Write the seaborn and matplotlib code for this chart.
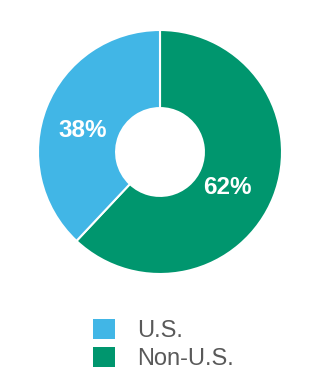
import matplotlib
matplotlib.use("Agg")
import matplotlib.pyplot as plt
from matplotlib.patches import Patch
from matplotlib.transforms import offset_copy
import seaborn as sns

categories = ["U.S.", "Non-U.S."]
values = [38, 62]
colors = ["#41B6E6", "#00966E"]

sns.set_style("white")
plt.rcParams["font.family"] = ["Liberation Sans", "DejaVu Sans"]

W, H = 320, 380
fig = plt.figure(figsize=(W / 100, H / 100), dpi=100)
cx, cy, r = 160, 152, 122
ax = fig.add_axes([(cx - r) / W, (H - cy - r) / H, 2 * r / W, 2 * r / H])

# draw Non-U.S. from top clockwise, then U.S.
order = [1, 0]
wedges, texts, autotexts = ax.pie(
    [values[i] for i in order],
    colors=[colors[i] for i in order],
    startangle=90,
    counterclock=False,
    radius=1,
    autopct=lambda p: f"{p:.0f}%",
    pctdistance=0.64,
    wedgeprops=dict(width=0.64, edgecolor="white", linewidth=1.5),
    textprops=dict(color="white", fontsize=17.5, fontweight="bold"),
)
for t in autotexts:
    t.set_transform(offset_copy(t.get_transform(), fig=fig, x=-5, y=-7, units="dots"))
ax.set_xlim(-1, 1)
ax.set_ylim(-1, 1)
ax.set_aspect("equal")
ax.axis("off")

handles = [Patch(facecolor=c, edgecolor="none") for c in colors]
leg = fig.legend(
    handles, categories,
    loc="upper left",
    bbox_to_anchor=(93 / W, 1 - 319 / H),
    frameon=False,
    fontsize=17,
    handlelength=0.95,
    handleheight=0.95,
    handletextpad=0.9,
    labelspacing=0.2,
    borderpad=0,
    borderaxespad=0,
)
for t in leg.get_texts():
    t.set_color("#595959")

fig.savefig("out.png", dpi=100)
